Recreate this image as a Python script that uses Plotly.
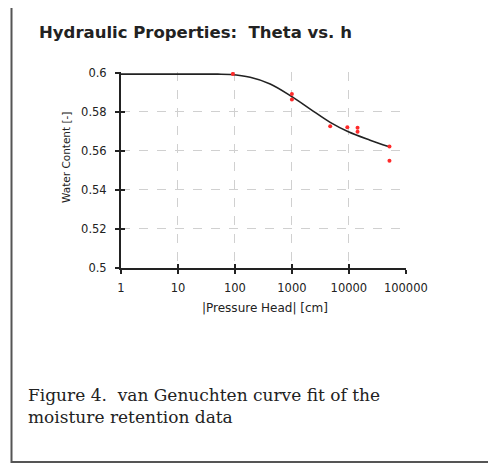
import plotly.graph_objects as go

# Measured data points (|pressure head| in cm, water content)
obs_h = [92, 1000, 1000, 4700, 9400, 14200, 14200, 51600, 51600]
obs_theta = [0.5994, 0.5891, 0.5863, 0.5726, 0.5721, 0.5719, 0.5698, 0.5623, 0.5550]

# Fitted curve
fit_h = [1, 10, 50, 83, 185, 416, 1000, 2100, 4700, 9800, 23600, 49500]
fit_theta = [0.5993, 0.5993, 0.5993, 0.5991, 0.5977, 0.5943, 0.5878, 0.5814, 0.5746, 0.5698, 0.5655, 0.5622]

x_tickvals = [1, 10, 100, 1000, 10000, 100000]
x_ticktext = ["1", "10", "100", "1000", "10000", "100000"]
y_tickvals = [0.5, 0.52, 0.54, 0.56, 0.58, 0.6]
y_ticktext = ["0.5", "0.52", "0.54", "0.56", "0.58", "0.6"]

# target plot area in page pixels (the page body has an 8px margin)
OFF = 8
L, R, T, B = 121, 406, 72, 268
W, H = 496, 464
pw, ph = R - L, B - T
def px(x): return (x - L) / pw
def py(y): return (B - y) / ph

sans = "DejaVu Sans, Arial, sans-serif"
serif = "DejaVu Serif, Times New Roman, serif"
ink = "#222222"

fig = go.Figure()
fig.add_trace(go.Scatter(x=fit_h, y=fit_theta, mode="lines",
                         line=dict(color=ink, width=1.6, shape="spline", smoothing=1.0),
                         showlegend=False, hoverinfo="skip"))
fig.add_trace(go.Scatter(x=obs_h, y=obs_theta, mode="markers",
                         marker=dict(color="#ff2a2a", size=4, line=dict(width=0)),
                         showlegend=False))
# helper trace for the inner half of the crossing ticks
fig.add_trace(go.Scatter(x=obs_h, y=obs_theta, mode="markers", xaxis="x2", yaxis="y2",
                         marker=dict(opacity=0), showlegend=False, hoverinfo="skip"))

xr = [0, 5.003]
yr = [0.5, 0.6004]
axis_common = dict(showline=False, zeroline=False, showgrid=False)
fig.update_layout(
    width=W, height=H,
    margin=dict(l=L - OFF, r=W - (R - OFF), t=T - OFF, b=H - (B - OFF)),
    paper_bgcolor="white", plot_bgcolor="white",
    font=dict(family=sans, color=ink, size=11),
    xaxis=dict(type="log", range=xr, tickmode="array", tickvals=x_tickvals, ticktext=x_ticktext,
               showgrid=True, gridcolor="#d0d0d0", griddash="dash", gridwidth=1,
               showline=True, linecolor=ink, linewidth=2,
               ticks="outside", ticklen=4, tickwidth=2, tickcolor=ink,
               tickfont=dict(size=11.5), ticklabelstandoff=4, zeroline=False),
    yaxis=dict(range=yr, tickmode="array", tickvals=y_tickvals, ticktext=y_ticktext,
               showgrid=True, gridcolor="#d0d0d0", griddash="dash", gridwidth=1,
               showline=True, linecolor=ink, linewidth=2,
               ticks="outside", ticklen=4, tickwidth=2, tickcolor=ink,
               tickfont=dict(size=11.5), ticklabelstandoff=6, zeroline=False),
    xaxis2=dict(type="log", range=xr, overlaying="x", tickmode="array", tickvals=x_tickvals,
                showticklabels=False, ticks="inside", ticklen=4, tickwidth=2, tickcolor=ink,
                side="bottom", anchor="y2", **axis_common),
    yaxis2=dict(range=yr, overlaying="y", tickmode="array", tickvals=y_tickvals,
                showticklabels=False, ticks="inside", ticklen=4, tickwidth=2, tickcolor=ink,
                side="left", anchor="x2", **axis_common),
    shapes=[dict(type="rect", xref="paper", yref="paper",
                 x0=px(11.5), x1=px(510), y0=py(462), y1=py(4.5),
                 line=dict(color="#555555", width=2), layer="below")],
    annotations=[
        dict(text="<b>Hydraulic Properties:  Theta vs. h</b>", xref="paper", yref="paper",
             x=px(37), y=py(33), xanchor="left", yanchor="middle", showarrow=False,
             font=dict(family=sans, size=16.5, color=ink)),
        dict(text="|Pressure Head| [cm]", xref="paper", yref="paper",
             x=px(265), y=py(308), xanchor="center", yanchor="middle", showarrow=False,
             font=dict(family=sans, size=12, color=ink)),
        dict(text="Water Content [-]", xref="paper", yref="paper", textangle=-90,
             x=px(66), y=py(158), xanchor="center", yanchor="middle", showarrow=False,
             font=dict(family=sans, size=10.5, color=ink)),
        dict(text="Figure 4.  van Genuchten curve fit of the<br>moisture retention data",
             xref="paper", yref="paper", x=px(26), y=py(406), xanchor="left", yanchor="middle",
             align="left", showarrow=False,
             font=dict(family=serif, size=17, color=ink)),
    ],
)

fig.write_html("out.html")
